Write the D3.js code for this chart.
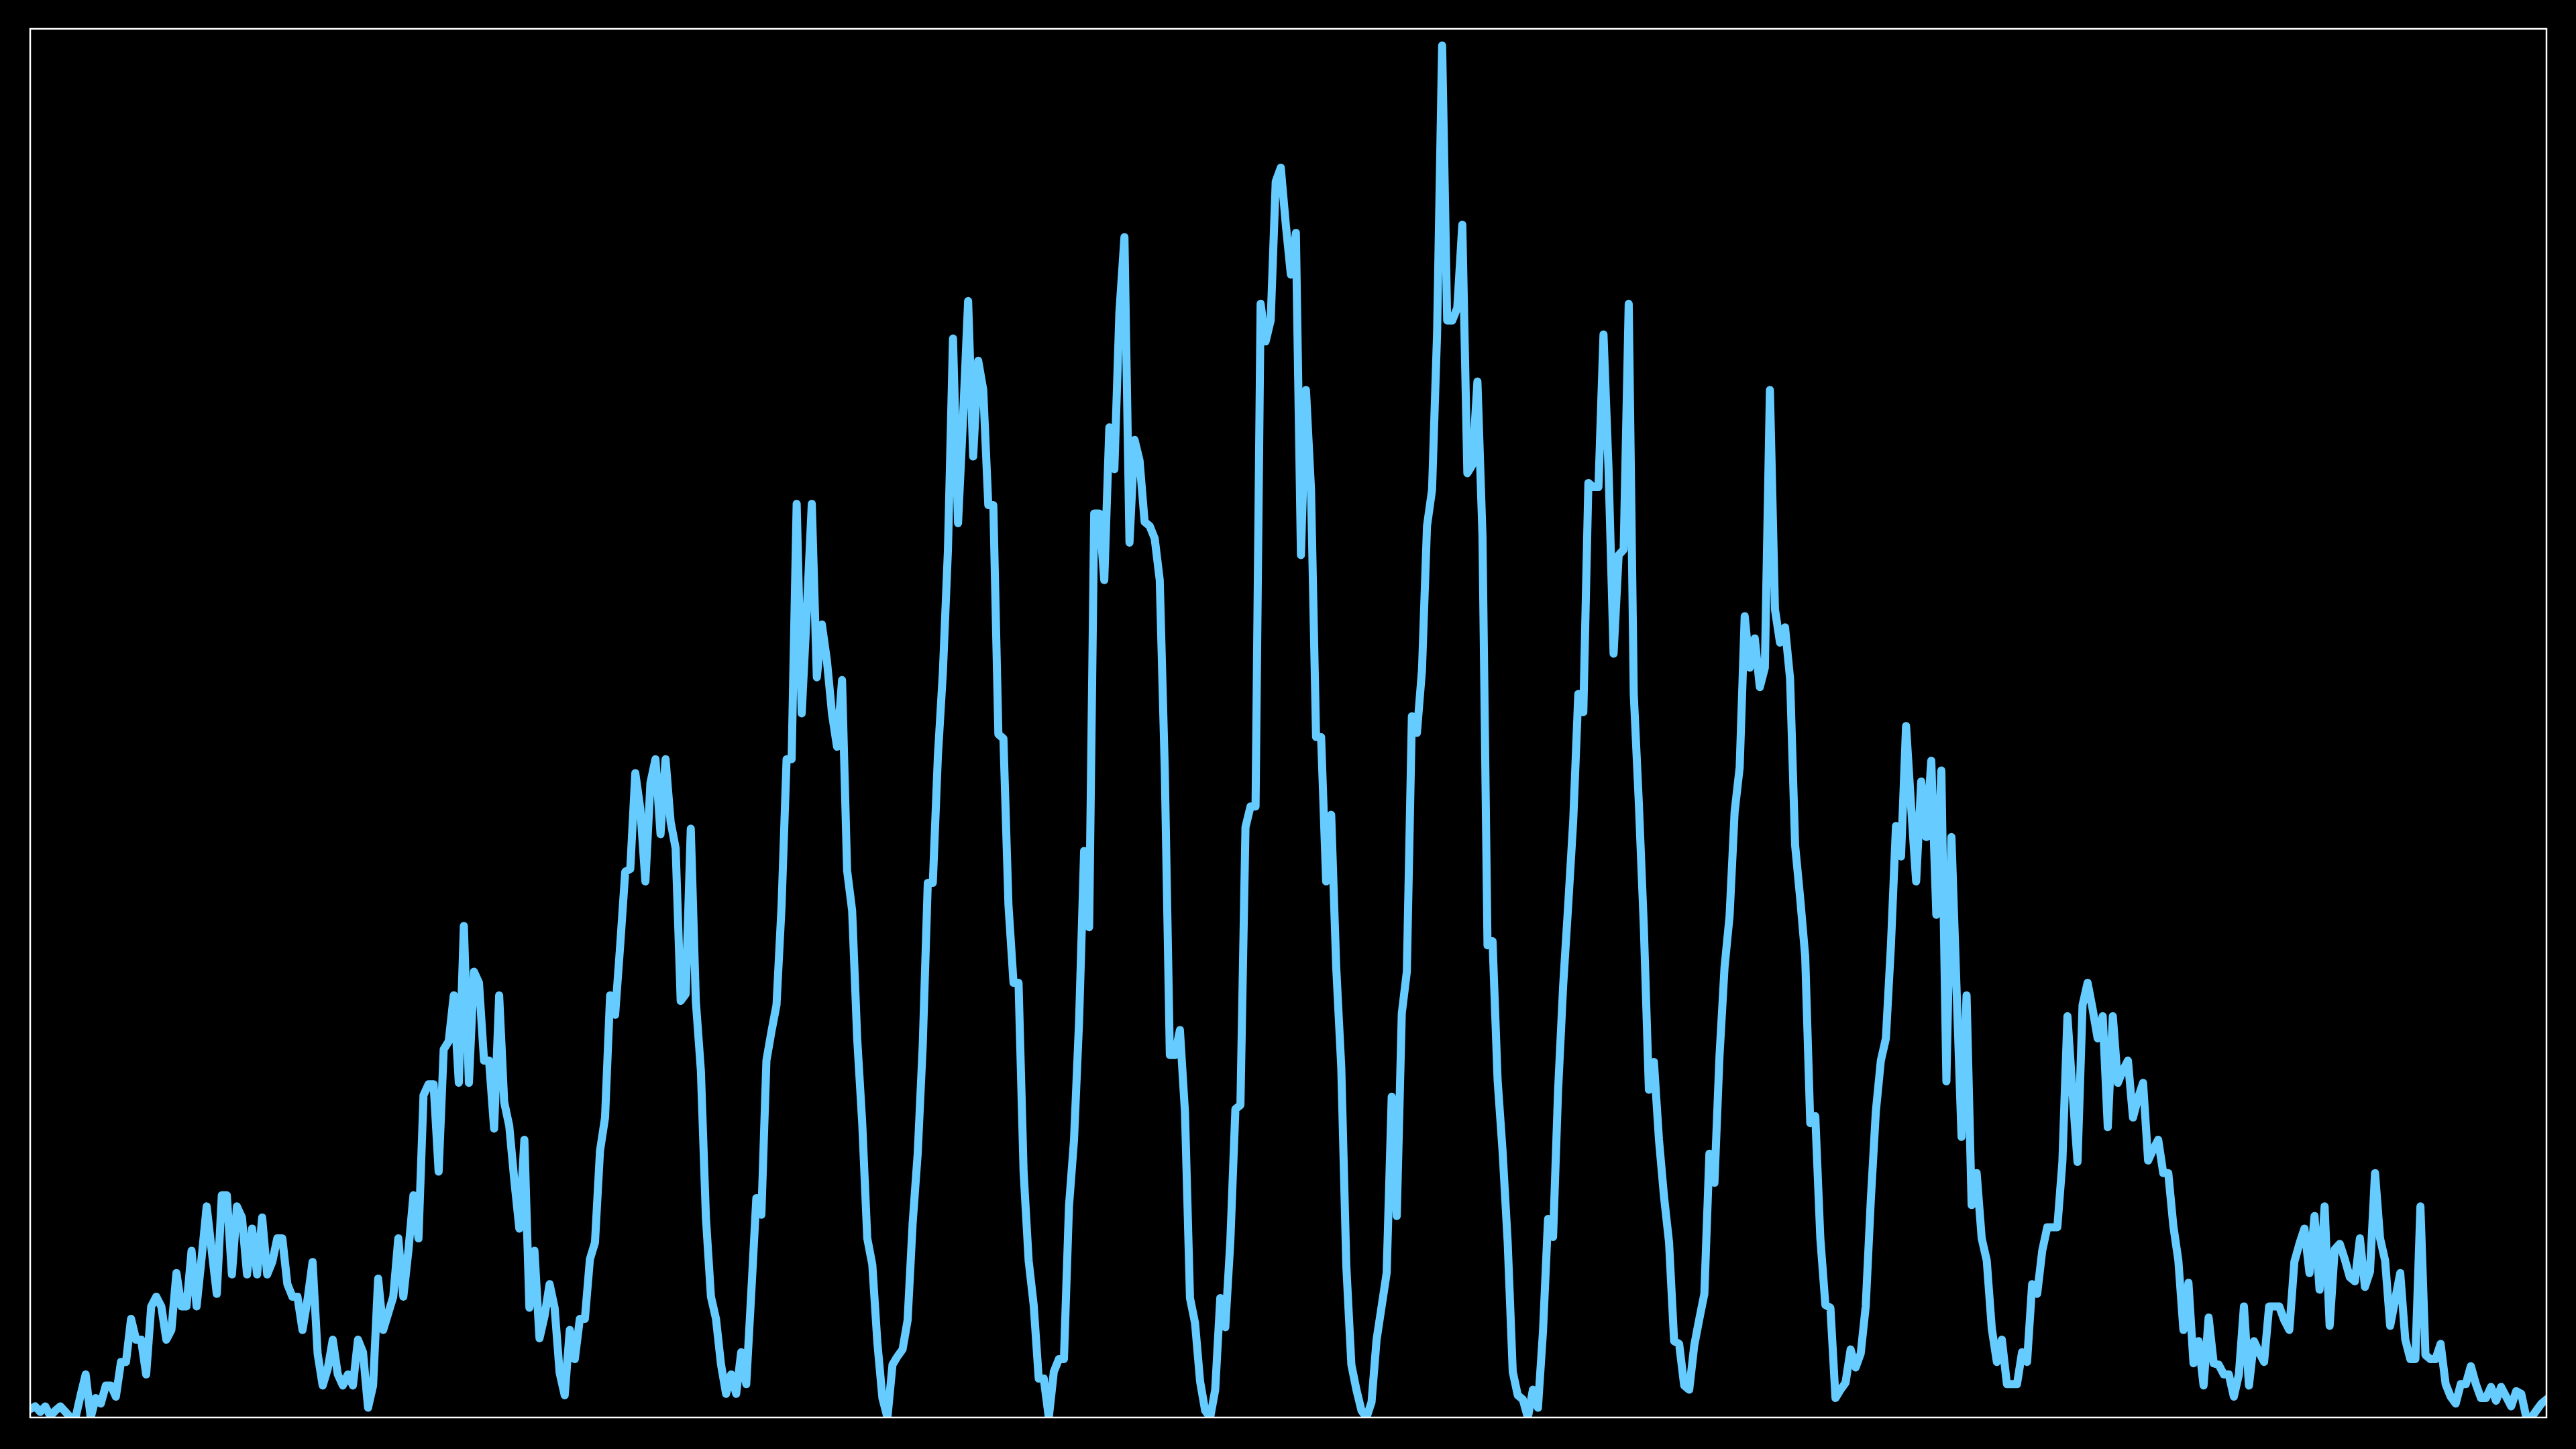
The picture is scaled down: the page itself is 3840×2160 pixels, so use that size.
<!DOCTYPE html>
<html>
<head>
<meta charset="utf-8">
<script src="https://cdn.jsdelivr.net/npm/d3@7"></script>
<style>
  html, body { margin: 0; padding: 0; background: #000; }
  svg { display: block; }
</style>
</head>
<body>
<script>
// Series values (arbitrary units, 0 = baseline, 100 = top of frame)
const values = [
  0.6, 0.8, 0.4, 0.8, 0.1, 0.5, 0.8, 0.4, 0.0, 0.0,
  1.6, 3.1, 0.0, 1.4, 1.0, 2.3, 2.3, 1.5, 4.0, 4.0,
  7.1, 5.6, 5.6, 3.1, 8.0, 8.7, 8.0, 5.6, 6.3, 10.4,
  8.0, 8.0, 12.0, 8.0, 11.5, 15.2, 12.0, 8.9, 16.0, 16.0,
  10.3, 15.2, 14.4, 10.3, 13.6, 10.3, 14.4, 10.3, 11.2, 12.9,
  12.9, 9.6, 8.7, 8.7, 6.3, 8.5, 11.2, 4.6, 2.3, 3.5,
  5.6, 3.1, 2.3, 3.1, 2.3, 5.6, 4.7, 0.7, 2.3, 10.0,
  6.3, 7.5, 8.7, 12.9, 8.7, 12.0, 16.0, 12.9, 23.2, 24.0,
  24.0, 17.7, 26.5, 27.1, 30.4, 24.1, 35.4, 24.1, 32.1, 31.3,
  25.7, 25.7, 20.8, 30.4, 22.7, 21.0, 17.1, 13.6, 20.0, 7.9,
  12.0, 5.7, 7.3, 9.6, 7.9, 3.2, 1.6, 6.3, 4.2, 7.1,
  7.1, 11.4, 12.6, 19.2, 21.6, 30.4, 29.0, 34.0, 39.3, 39.5,
  46.4, 43.8, 38.6, 45.7, 47.4, 42.0, 47.4, 42.9, 41.0, 30.0,
  30.5, 42.4, 30.0, 25.0, 14.4, 8.7, 7.1, 3.8, 1.7, 3.1,
  1.7, 4.7, 2.4, 9.0, 15.8, 14.6, 25.7, 27.8, 29.7, 36.8,
  47.4, 47.4, 65.8, 50.7, 58.0, 65.8, 53.3, 57.1, 54.5, 50.7,
  48.3, 53.1, 39.4, 36.5, 27.3, 21.2, 12.9, 11.0, 5.4, 1.4,
  0.0, 3.8, 4.4, 4.9, 7.0, 14.0, 19.0, 26.8, 38.5, 38.5,
  47.6, 53.7, 62.5, 77.7, 64.4, 72.0, 80.4, 69.2, 76.1, 74.0,
  65.7, 65.7, 49.2, 48.9, 36.9, 31.3, 31.3, 17.7, 11.3, 8.1,
  2.8, 2.8, 0.0, 3.3, 4.2, 4.2, 15.2, 20.0, 28.5, 40.8,
  35.3, 65.1, 65.1, 60.3, 71.3, 68.3, 79.6, 85.0, 63.0, 70.4,
  68.9, 64.5, 64.2, 63.3, 60.3, 46.6, 26.1, 26.1, 27.9, 22.0,
  8.6, 6.8, 2.6, 0.5, 0.0, 2.0, 8.6, 6.5, 12.7, 22.2,
  22.5, 42.5, 44.0, 44.0, 80.2, 77.5, 79.0, 89.0, 90.0, 85.9,
  82.3, 85.3, 62.1, 74.0, 66.8, 49.0, 49.0, 38.6, 43.4, 32.4,
  25.2, 10.9, 3.8, 2.0, 0.5, 0.0, 1.1, 5.6, 8.0, 10.4,
  23.1, 14.5, 29.1, 32.1, 50.5, 49.3, 53.8, 64.2, 66.8, 78.1,
  98.8, 79.0, 79.0, 79.9, 85.9, 68.0, 68.6, 74.6, 63.5, 34.0,
  34.3, 24.3, 19.1, 12.6, 3.3, 1.6, 1.3, 0.0, 2.0, 0.7,
  6.2, 14.3, 13.0, 23.6, 31.1, 36.9, 43.0, 52.1, 50.8, 67.3,
  67.0, 67.0, 78.0, 68.3, 55.0, 62.1, 62.5, 80.2, 52.1, 44.3,
  35.3, 23.6, 25.6, 20.0, 15.9, 12.6, 5.5, 5.3, 2.3, 2.0,
  5.2, 7.1, 8.9, 19.0, 16.9, 26.0, 32.4, 36.1, 43.6, 46.8,
  57.7, 54.0, 56.1, 52.6, 54.0, 74.0, 58.2, 55.8, 56.9, 53.2,
  41.2, 37.4, 33.2, 21.2, 21.7, 12.9, 8.1, 7.9, 1.4, 2.0,
  2.5, 4.9, 3.6, 4.6, 8.0, 15.6, 22.0, 25.7, 27.3, 34.0,
  42.6, 40.4, 49.8, 44.0, 38.6, 45.8, 41.8, 47.3, 36.2, 46.6,
  24.2, 41.8, 31.0, 20.2, 30.4, 15.3, 17.6, 12.9, 11.3, 6.4,
  4.0, 5.6, 2.4, 2.4, 2.4, 4.7, 4.0, 9.6, 8.9, 12.0,
  13.7, 13.7, 13.7, 18.4, 28.9, 23.5, 18.4, 29.7, 31.3, 29.4,
  27.3, 28.9, 20.9, 28.9, 24.1, 25.0, 25.7, 21.6, 23.0, 24.1,
  18.5, 19.3, 20.0, 17.6, 17.6, 13.8, 11.3, 6.3, 9.7, 3.9,
  5.5, 2.3, 7.2, 3.9, 3.8, 3.1, 3.1, 1.5, 3.1, 8.0,
  2.3, 5.5, 4.7, 4.0, 8.0, 8.0, 8.0, 7.0, 6.3, 11.2,
  12.5, 13.6, 10.4, 14.5, 9.2, 15.2, 6.6, 12.1, 12.5, 11.4,
  10.1, 9.8, 12.9, 9.4, 10.5, 17.6, 12.9, 11.3, 6.6, 8.5,
  10.4, 5.6, 4.2, 4.2, 15.2, 4.5, 4.2, 4.2, 5.3, 2.4,
  1.5, 1.0, 2.4, 2.4, 3.7, 2.4, 1.4, 1.4, 2.2, 1.2,
  2.2, 1.5, 0.8, 1.9, 1.7, 0.0, 0.0, 0.5, 1.0, 1.3
];
const xDomain = [0, values.length - 1];
const yDomain = [0, 100];

const W = 3840, H = 2160;
const plot = { left: 45, top: 43, right: 3796, bottom: 2113 };

const svg = d3.select("body").append("svg")
  .attr("width", W).attr("height", H)
  .style("background", "#000");

const x = d3.scaleLinear().domain(xDomain).range([plot.left, plot.right]);
const y = d3.scaleLinear().domain(yDomain).range([plot.bottom, plot.top]);

svg.append("defs").append("clipPath").attr("id", "plotclip")
  .append("rect")
  .attr("x", plot.left).attr("y", plot.top)
  .attr("width", plot.right - plot.left)
  .attr("height", plot.bottom - plot.top);

const line = d3.line()
  .x((d, i) => x(i))
  .y(d => y(d));

svg.append("path")
  .datum(values)
  .attr("clip-path", "url(#plotclip)")
  .attr("fill", "none")
  .attr("stroke", "#66ccff")
  .attr("stroke-width", 12)
  .attr("stroke-linejoin", "round")
  .attr("stroke-linecap", "round")
  .attr("d", line);

svg.append("rect")
  .attr("x", plot.left).attr("y", plot.top)
  .attr("width", plot.right - plot.left)
  .attr("height", plot.bottom - plot.top)
  .attr("fill", "none")
  .attr("stroke", "#ffffff")
  .attr("stroke-width", 2.5);
</script>
</body>
</html>
